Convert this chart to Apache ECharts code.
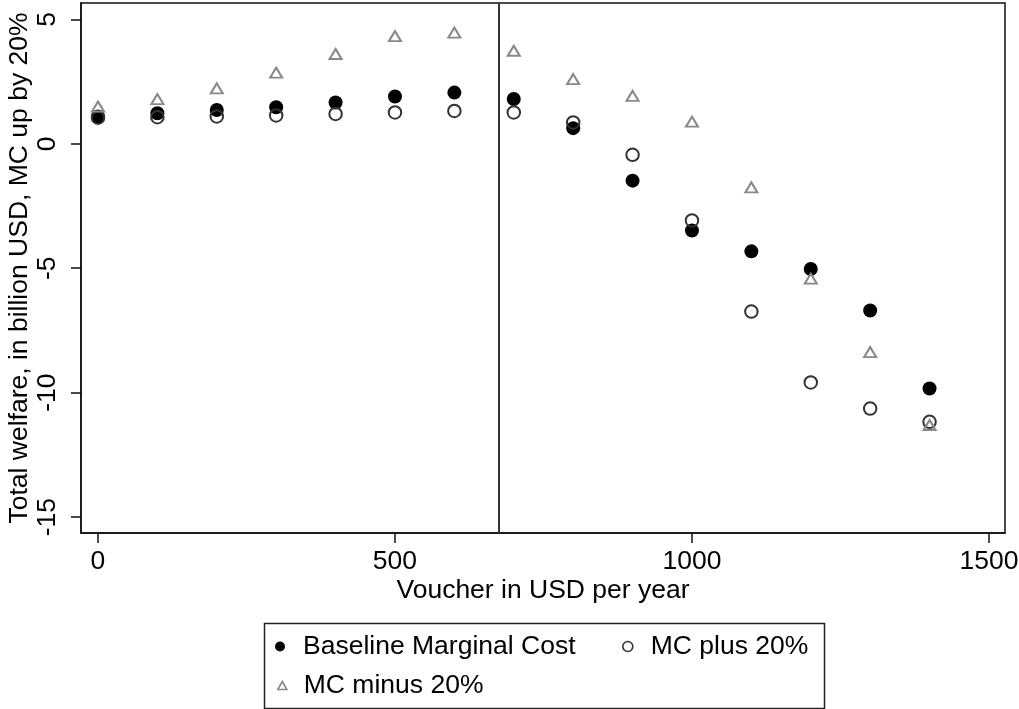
<!DOCTYPE html>
<html>
<head>
<meta charset="utf-8">
<script src="https://cdn.jsdelivr.net/npm/echarts@6/dist/echarts.min.js"></script>
<style>
html,body{margin:0;padding:0;background:#fff;}
#chart{width:1019px;height:709px;}
</style>
</head>
<body>
<div id="chart"></div>
<script>
var vouchers = [0, 100, 200, 300, 400, 500, 600, 700, 800, 900, 1000, 1100, 1200, 1300, 1400];
var baseline = [1.10, 1.23, 1.36, 1.47, 1.66, 1.90, 2.06, 1.80, 0.63, -1.48, -3.48, -4.32, -5.03, -6.70, -9.83];
var mcPlus   = [1.05, 1.07, 1.10, 1.14, 1.20, 1.26, 1.32, 1.26, 0.86, -0.44, -3.08, -6.74, -9.59, -10.64, -11.17];
var mcMinus  = [1.50, 1.80, 2.23, 2.86, 3.61, 4.33, 4.47, 3.74, 2.60, 1.93, 0.89, -1.75, -5.42, -8.37, -11.30];
var xTicks = [0, 500, 1000, 1500];
var yTicks = [-15, -10, -5, 0, 5];
var cutoff = 675;
var names = ['Baseline Marginal Cost', 'MC plus 20%', 'MC minus 20%'];

function pairs(ys) { return vouchers.map(function (x, i) { return [x, ys[i]]; }); }
function plain(v) { return String(v); }

var FONT = '"Liberation Sans", Arial, Helvetica, sans-serif';
var FS = 26.5;
var chart = echarts.init(document.getElementById('chart'), null, {renderer: 'canvas'});
function legendText(pad) { return {fontFamily: FONT, fontSize: FS, color: '#000', padding: [0, 0, 0, pad]}; }
chart.setOption({
  animation: false,
  backgroundColor: '#fff',
  grid: {left: 81, right: 14, top: 3, bottom: 176, outerBoundsMode: 'none', containLabel: false,
         show: true, borderColor: '#111', borderWidth: 1.5, backgroundColor: '#fff'},
  xAxis: {
    type: 'value', min: -28.6, max: 1527,
    name: 'Voucher in USD per year', nameLocation: 'middle', nameGap: 44, nameMoveOverlap: false,
    nameTextStyle: {fontFamily: FONT, fontSize: FS, color: '#000'},
    axisLine: {show: true, onZero: false, lineStyle: {color: '#111', width: 1.5}},
    axisTick: {show: true, length: 10, customValues: xTicks, lineStyle: {color: '#111', width: 1.5}},
    axisLabel: {customValues: xTicks, formatter: plain, fontFamily: FONT, fontSize: FS, color: '#000', margin: 15},
    splitLine: {show: false}
  },
  yAxis: {
    type: 'value', min: -15.64, max: 5.66,
    name: 'Total welfare, in billion USD, MC up by 20%', nameLocation: 'middle', nameGap: 48, nameMoveOverlap: false,
    nameTextStyle: {fontFamily: FONT, fontSize: FS, color: '#000'},
    axisLine: {show: true, onZero: false, lineStyle: {color: '#111', width: 1.5}},
    axisTick: {show: true, length: 10, customValues: yTicks, lineStyle: {color: '#111', width: 1.5}},
    axisLabel: {customValues: yTicks, formatter: plain, rotate: 90, fontFamily: FONT, fontSize: FS, color: '#000', margin: 20},
    splitLine: {show: false}
  },
  legend: [
    {data: [names[0]], left: 275, top: 633, padding: 0, itemWidth: 10, itemHeight: 10, textStyle: legendText(13), selectedMode: false,
     itemStyle: {color: '#000', borderWidth: 0, opacity: 1}},
    {data: [names[1]], left: 622, top: 633, padding: 0, itemWidth: 10, itemHeight: 10, textStyle: legendText(13), selectedMode: false,
     itemStyle: {color: 'rgba(0,0,0,0)', borderColor: '#333', borderWidth: 1.6}},
    {data: [names[2]], left: 277, top: 672, padding: 0, itemWidth: 9, itemHeight: 8, textStyle: legendText(12), selectedMode: false,
     itemStyle: {color: 'rgba(0,0,0,0)', borderColor: '#888', borderWidth: 1.6}}
  ],
  graphic: [{
    type: 'rect', left: 262, top: 621, shape: {width: 560, height: 85},
    style: {fill: 'none', stroke: '#222', lineWidth: 1.5}, silent: true
  }],
  series: [
    {name: names[0], type: 'scatter', data: pairs(baseline), symbol: 'circle', symbolSize: 14,
     itemStyle: {color: '#000', opacity: 1}, z: 3,
     markLine: {silent: true, symbol: ['none', 'none'], label: {show: false},
       lineStyle: {color: '#333', width: 2, type: 'solid'}, data: [{xAxis: cutoff}]}},
    {name: names[1], type: 'scatter', data: pairs(mcPlus), symbol: 'circle', symbolSize: 12.5,
     itemStyle: {color: 'rgba(0,0,0,0)', borderColor: '#333', borderWidth: 2, opacity: 1}, z: 4},
    {name: names[2], type: 'scatter', data: pairs(mcMinus), symbol: 'triangle', symbolSize: [12, 10],
     itemStyle: {color: 'rgba(0,0,0,0)', borderColor: '#888', borderWidth: 2, opacity: 1}, z: 5}
  ]
});
</script>
</body>
</html>
